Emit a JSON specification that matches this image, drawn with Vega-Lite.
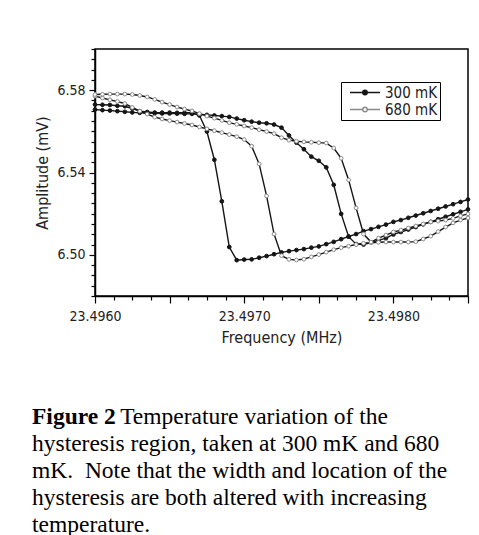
{
  "$schema": "https://vega.github.io/schema/vega-lite/v6.json",
  "width": 373,
  "height": 247,
  "autosize": {"type": "none"},
  "padding": {"left": 95, "top": 49, "right": 11, "bottom": 239},
  "background": "white",
  "title": {
    "text": "Figure 2",
    "subtitle": [
      "\u200b\u00a0\u00a0\u00a0\u00a0\u00a0\u00a0\u00a0\u00a0\u00a0\u00a0\u00a0\u00a0\u00a0\u00a0\u00a0Temperature variation of the",
      "hysteresis region, taken at 300 mK and 680",
      "mK.\u00a0 Note that the width and location of the",
      "hysteresis are both altered with increasing",
      "temperature."
    ],
    "orient": "bottom",
    "anchor": "start",
    "frame": "group",
    "dx": -63,
    "offset": 60,
    "font": "Liberation Serif",
    "fontSize": 23.5,
    "fontWeight": "bold",
    "color": "black",
    "subtitleFont": "Liberation Serif",
    "subtitleFontSize": 23.5,
    "subtitleColor": "black",
    "subtitleLineHeight": 27.1,
    "subtitlePadding": -23.5
  },
  "data": {
    "values": [
      {"f":23.49600,"a":6.5730,"t":"300 mK","c":"300a"},
      {"f":23.49605,"a":6.5729,"t":"300 mK","c":"300a"},
      {"f":23.49610,"a":6.5728,"t":"300 mK","c":"300a"},
      {"f":23.49615,"a":6.5724,"t":"300 mK","c":"300a"},
      {"f":23.49620,"a":6.5722,"t":"300 mK","c":"300a"},
      {"f":23.49625,"a":6.5711,"t":"300 mK","c":"300a"},
      {"f":23.49630,"a":6.5698,"t":"300 mK","c":"300a"},
      {"f":23.49635,"a":6.5694,"t":"300 mK","c":"300a"},
      {"f":23.49640,"a":6.5691,"t":"300 mK","c":"300a"},
      {"f":23.49645,"a":6.5691,"t":"300 mK","c":"300a"},
      {"f":23.49650,"a":6.5691,"t":"300 mK","c":"300a"},
      {"f":23.49655,"a":6.5690,"t":"300 mK","c":"300a"},
      {"f":23.49660,"a":6.5690,"t":"300 mK","c":"300a"},
      {"f":23.49665,"a":6.5690,"t":"300 mK","c":"300a"},
      {"f":23.49670,"a":6.5677,"t":"300 mK","c":"300a"},
      {"f":23.49675,"a":6.5599,"t":"300 mK","c":"300a"},
      {"f":23.49680,"a":6.5462,"t":"300 mK","c":"300a"},
      {"f":23.49685,"a":6.5260,"t":"300 mK","c":"300a"},
      {"f":23.49690,"a":6.5038,"t":"300 mK","c":"300a"},
      {"f":23.49695,"a":6.4974,"t":"300 mK","c":"300a"},
      {"f":23.49700,"a":6.4977,"t":"300 mK","c":"300a"},
      {"f":23.49705,"a":6.4978,"t":"300 mK","c":"300a"},
      {"f":23.49710,"a":6.4986,"t":"300 mK","c":"300a"},
      {"f":23.49715,"a":6.4994,"t":"300 mK","c":"300a"},
      {"f":23.49720,"a":6.5003,"t":"300 mK","c":"300a"},
      {"f":23.49725,"a":6.5012,"t":"300 mK","c":"300a"},
      {"f":23.49730,"a":6.5018,"t":"300 mK","c":"300a"},
      {"f":23.49735,"a":6.5023,"t":"300 mK","c":"300a"},
      {"f":23.49740,"a":6.5028,"t":"300 mK","c":"300a"},
      {"f":23.49745,"a":6.5035,"t":"300 mK","c":"300a"},
      {"f":23.49750,"a":6.5041,"t":"300 mK","c":"300a"},
      {"f":23.49755,"a":6.5052,"t":"300 mK","c":"300a"},
      {"f":23.49760,"a":6.5063,"t":"300 mK","c":"300a"},
      {"f":23.49765,"a":6.5076,"t":"300 mK","c":"300a"},
      {"f":23.49770,"a":6.5089,"t":"300 mK","c":"300a"},
      {"f":23.49775,"a":6.5101,"t":"300 mK","c":"300a"},
      {"f":23.49780,"a":6.5115,"t":"300 mK","c":"300a"},
      {"f":23.49785,"a":6.5125,"t":"300 mK","c":"300a"},
      {"f":23.49790,"a":6.5136,"t":"300 mK","c":"300a"},
      {"f":23.49795,"a":6.5147,"t":"300 mK","c":"300a"},
      {"f":23.49800,"a":6.5160,"t":"300 mK","c":"300a"},
      {"f":23.49805,"a":6.5169,"t":"300 mK","c":"300a"},
      {"f":23.49810,"a":6.5180,"t":"300 mK","c":"300a"},
      {"f":23.49815,"a":6.5191,"t":"300 mK","c":"300a"},
      {"f":23.49820,"a":6.5202,"t":"300 mK","c":"300a"},
      {"f":23.49825,"a":6.5213,"t":"300 mK","c":"300a"},
      {"f":23.49830,"a":6.5224,"t":"300 mK","c":"300a"},
      {"f":23.49835,"a":6.5235,"t":"300 mK","c":"300a"},
      {"f":23.49840,"a":6.5246,"t":"300 mK","c":"300a"},
      {"f":23.49845,"a":6.5257,"t":"300 mK","c":"300a"},
      {"f":23.49850,"a":6.5269,"t":"300 mK","c":"300a"},

      {"f":23.49600,"a":6.5706,"t":"300 mK","c":"300b"},
      {"f":23.49605,"a":6.5703,"t":"300 mK","c":"300b"},
      {"f":23.49610,"a":6.5701,"t":"300 mK","c":"300b"},
      {"f":23.49615,"a":6.5698,"t":"300 mK","c":"300b"},
      {"f":23.49620,"a":6.5695,"t":"300 mK","c":"300b"},
      {"f":23.49625,"a":6.5692,"t":"300 mK","c":"300b"},
      {"f":23.49630,"a":6.5690,"t":"300 mK","c":"300b"},
      {"f":23.49635,"a":6.5689,"t":"300 mK","c":"300b"},
      {"f":23.49640,"a":6.5688,"t":"300 mK","c":"300b"},
      {"f":23.49645,"a":6.5687,"t":"300 mK","c":"300b"},
      {"f":23.49650,"a":6.5687,"t":"300 mK","c":"300b"},
      {"f":23.49655,"a":6.5686,"t":"300 mK","c":"300b"},
      {"f":23.49660,"a":6.5685,"t":"300 mK","c":"300b"},
      {"f":23.49665,"a":6.5685,"t":"300 mK","c":"300b"},
      {"f":23.49670,"a":6.5683,"t":"300 mK","c":"300b"},
      {"f":23.49675,"a":6.5680,"t":"300 mK","c":"300b"},
      {"f":23.49680,"a":6.5677,"t":"300 mK","c":"300b"},
      {"f":23.49685,"a":6.5674,"t":"300 mK","c":"300b"},
      {"f":23.49690,"a":6.5670,"t":"300 mK","c":"300b"},
      {"f":23.49695,"a":6.5662,"t":"300 mK","c":"300b"},
      {"f":23.49700,"a":6.5654,"t":"300 mK","c":"300b"},
      {"f":23.49705,"a":6.5647,"t":"300 mK","c":"300b"},
      {"f":23.49710,"a":6.5642,"t":"300 mK","c":"300b"},
      {"f":23.49715,"a":6.5639,"t":"300 mK","c":"300b"},
      {"f":23.49720,"a":6.5633,"t":"300 mK","c":"300b"},
      {"f":23.49725,"a":6.5618,"t":"300 mK","c":"300b"},
      {"f":23.49730,"a":6.5580,"t":"300 mK","c":"300b"},
      {"f":23.49735,"a":6.5545,"t":"300 mK","c":"300b"},
      {"f":23.49740,"a":6.5513,"t":"300 mK","c":"300b"},
      {"f":23.49745,"a":6.5477,"t":"300 mK","c":"300b"},
      {"f":23.49750,"a":6.5457,"t":"300 mK","c":"300b"},
      {"f":23.49755,"a":6.5425,"t":"300 mK","c":"300b"},
      {"f":23.49760,"a":6.5340,"t":"300 mK","c":"300b"},
      {"f":23.49765,"a":6.5199,"t":"300 mK","c":"300b"},
      {"f":23.49770,"a":6.5088,"t":"300 mK","c":"300b"},
      {"f":23.49775,"a":6.5052,"t":"300 mK","c":"300b"},
      {"f":23.49780,"a":6.5050,"t":"300 mK","c":"300b"},
      {"f":23.49785,"a":6.5060,"t":"300 mK","c":"300b"},
      {"f":23.49790,"a":6.5070,"t":"300 mK","c":"300b"},
      {"f":23.49795,"a":6.5081,"t":"300 mK","c":"300b"},
      {"f":23.49800,"a":6.5099,"t":"300 mK","c":"300b"},
      {"f":23.49805,"a":6.5111,"t":"300 mK","c":"300b"},
      {"f":23.49810,"a":6.5123,"t":"300 mK","c":"300b"},
      {"f":23.49815,"a":6.5135,"t":"300 mK","c":"300b"},
      {"f":23.49820,"a":6.5148,"t":"300 mK","c":"300b"},
      {"f":23.49825,"a":6.5160,"t":"300 mK","c":"300b"},
      {"f":23.49830,"a":6.5173,"t":"300 mK","c":"300b"},
      {"f":23.49835,"a":6.5185,"t":"300 mK","c":"300b"},
      {"f":23.49840,"a":6.5197,"t":"300 mK","c":"300b"},
      {"f":23.49845,"a":6.5209,"t":"300 mK","c":"300b"},
      {"f":23.49850,"a":6.5221,"t":"300 mK","c":"300b"},

      {"f":23.49600,"a":6.5771,"t":"680 mK","c":"680a"},
      {"f":23.49605,"a":6.5762,"t":"680 mK","c":"680a"},
      {"f":23.49610,"a":6.5753,"t":"680 mK","c":"680a"},
      {"f":23.49615,"a":6.5745,"t":"680 mK","c":"680a"},
      {"f":23.49620,"a":6.5735,"t":"680 mK","c":"680a"},
      {"f":23.49625,"a":6.5716,"t":"680 mK","c":"680a"},
      {"f":23.49630,"a":6.5698,"t":"680 mK","c":"680a"},
      {"f":23.49635,"a":6.5684,"t":"680 mK","c":"680a"},
      {"f":23.49640,"a":6.5669,"t":"680 mK","c":"680a"},
      {"f":23.49645,"a":6.5660,"t":"680 mK","c":"680a"},
      {"f":23.49650,"a":6.5652,"t":"680 mK","c":"680a"},
      {"f":23.49655,"a":6.5645,"t":"680 mK","c":"680a"},
      {"f":23.49660,"a":6.5638,"t":"680 mK","c":"680a"},
      {"f":23.49665,"a":6.5631,"t":"680 mK","c":"680a"},
      {"f":23.49670,"a":6.5621,"t":"680 mK","c":"680a"},
      {"f":23.49675,"a":6.5612,"t":"680 mK","c":"680a"},
      {"f":23.49680,"a":6.5603,"t":"680 mK","c":"680a"},
      {"f":23.49685,"a":6.5594,"t":"680 mK","c":"680a"},
      {"f":23.49690,"a":6.5584,"t":"680 mK","c":"680a"},
      {"f":23.49695,"a":6.5574,"t":"680 mK","c":"680a"},
      {"f":23.49700,"a":6.5560,"t":"680 mK","c":"680a"},
      {"f":23.49705,"a":6.5528,"t":"680 mK","c":"680a"},
      {"f":23.49710,"a":6.5442,"t":"680 mK","c":"680a"},
      {"f":23.49715,"a":6.5286,"t":"680 mK","c":"680a"},
      {"f":23.49720,"a":6.5101,"t":"680 mK","c":"680a"},
      {"f":23.49725,"a":6.4996,"t":"680 mK","c":"680a"},
      {"f":23.49730,"a":6.4978,"t":"680 mK","c":"680a"},
      {"f":23.49735,"a":6.4975,"t":"680 mK","c":"680a"},
      {"f":23.49740,"a":6.4979,"t":"680 mK","c":"680a"},
      {"f":23.49745,"a":6.4990,"t":"680 mK","c":"680a"},
      {"f":23.49750,"a":6.5001,"t":"680 mK","c":"680a"},
      {"f":23.49755,"a":6.5013,"t":"680 mK","c":"680a"},
      {"f":23.49760,"a":6.5025,"t":"680 mK","c":"680a"},
      {"f":23.49765,"a":6.5035,"t":"680 mK","c":"680a"},
      {"f":23.49770,"a":6.5042,"t":"680 mK","c":"680a"},
      {"f":23.49775,"a":6.5050,"t":"680 mK","c":"680a"},
      {"f":23.49780,"a":6.5056,"t":"680 mK","c":"680a"},
      {"f":23.49785,"a":6.5059,"t":"680 mK","c":"680a"},
      {"f":23.49790,"a":6.5061,"t":"680 mK","c":"680a"},
      {"f":23.49795,"a":6.5062,"t":"680 mK","c":"680a"},
      {"f":23.49800,"a":6.5062,"t":"680 mK","c":"680a"},
      {"f":23.49805,"a":6.5062,"t":"680 mK","c":"680a"},
      {"f":23.49810,"a":6.5062,"t":"680 mK","c":"680a"},
      {"f":23.49815,"a":6.5064,"t":"680 mK","c":"680a"},
      {"f":23.49820,"a":6.5077,"t":"680 mK","c":"680a"},
      {"f":23.49825,"a":6.5091,"t":"680 mK","c":"680a"},
      {"f":23.49830,"a":6.5113,"t":"680 mK","c":"680a"},
      {"f":23.49835,"a":6.5135,"t":"680 mK","c":"680a"},
      {"f":23.49840,"a":6.5155,"t":"680 mK","c":"680a"},
      {"f":23.49845,"a":6.5169,"t":"680 mK","c":"680a"},
      {"f":23.49850,"a":6.5179,"t":"680 mK","c":"680a"},

      {"f":23.49600,"a":6.5779,"t":"680 mK","c":"680b"},
      {"f":23.49605,"a":6.5780,"t":"680 mK","c":"680b"},
      {"f":23.49610,"a":6.5781,"t":"680 mK","c":"680b"},
      {"f":23.49615,"a":6.5781,"t":"680 mK","c":"680b"},
      {"f":23.49620,"a":6.5781,"t":"680 mK","c":"680b"},
      {"f":23.49625,"a":6.5779,"t":"680 mK","c":"680b"},
      {"f":23.49630,"a":6.5774,"t":"680 mK","c":"680b"},
      {"f":23.49635,"a":6.5767,"t":"680 mK","c":"680b"},
      {"f":23.49640,"a":6.5755,"t":"680 mK","c":"680b"},
      {"f":23.49645,"a":6.5742,"t":"680 mK","c":"680b"},
      {"f":23.49650,"a":6.5730,"t":"680 mK","c":"680b"},
      {"f":23.49655,"a":6.5718,"t":"680 mK","c":"680b"},
      {"f":23.49660,"a":6.5708,"t":"680 mK","c":"680b"},
      {"f":23.49665,"a":6.5699,"t":"680 mK","c":"680b"},
      {"f":23.49670,"a":6.5686,"t":"680 mK","c":"680b"},
      {"f":23.49675,"a":6.5674,"t":"680 mK","c":"680b"},
      {"f":23.49680,"a":6.5664,"t":"680 mK","c":"680b"},
      {"f":23.49685,"a":6.5653,"t":"680 mK","c":"680b"},
      {"f":23.49690,"a":6.5642,"t":"680 mK","c":"680b"},
      {"f":23.49695,"a":6.5634,"t":"680 mK","c":"680b"},
      {"f":23.49700,"a":6.5626,"t":"680 mK","c":"680b"},
      {"f":23.49705,"a":6.5618,"t":"680 mK","c":"680b"},
      {"f":23.49710,"a":6.5608,"t":"680 mK","c":"680b"},
      {"f":23.49715,"a":6.5599,"t":"680 mK","c":"680b"},
      {"f":23.49720,"a":6.5589,"t":"680 mK","c":"680b"},
      {"f":23.49725,"a":6.5569,"t":"680 mK","c":"680b"},
      {"f":23.49730,"a":6.5557,"t":"680 mK","c":"680b"},
      {"f":23.49735,"a":6.5552,"t":"680 mK","c":"680b"},
      {"f":23.49740,"a":6.5549,"t":"680 mK","c":"680b"},
      {"f":23.49745,"a":6.5547,"t":"680 mK","c":"680b"},
      {"f":23.49750,"a":6.5545,"t":"680 mK","c":"680b"},
      {"f":23.49755,"a":6.5543,"t":"680 mK","c":"680b"},
      {"f":23.49760,"a":6.5519,"t":"680 mK","c":"680b"},
      {"f":23.49765,"a":6.5469,"t":"680 mK","c":"680b"},
      {"f":23.49770,"a":6.5364,"t":"680 mK","c":"680b"},
      {"f":23.49775,"a":6.5228,"t":"680 mK","c":"680b"},
      {"f":23.49780,"a":6.5101,"t":"680 mK","c":"680b"},
      {"f":23.49785,"a":6.5062,"t":"680 mK","c":"680b"},
      {"f":23.49790,"a":6.5081,"t":"680 mK","c":"680b"},
      {"f":23.49795,"a":6.5096,"t":"680 mK","c":"680b"},
      {"f":23.49800,"a":6.5111,"t":"680 mK","c":"680b"},
      {"f":23.49805,"a":6.5120,"t":"680 mK","c":"680b"},
      {"f":23.49810,"a":6.5130,"t":"680 mK","c":"680b"},
      {"f":23.49815,"a":6.5140,"t":"680 mK","c":"680b"},
      {"f":23.49820,"a":6.5150,"t":"680 mK","c":"680b"},
      {"f":23.49825,"a":6.5160,"t":"680 mK","c":"680b"},
      {"f":23.49830,"a":6.5164,"t":"680 mK","c":"680b"},
      {"f":23.49835,"a":6.5169,"t":"680 mK","c":"680b"},
      {"f":23.49840,"a":6.5177,"t":"680 mK","c":"680b"},
      {"f":23.49845,"a":6.5189,"t":"680 mK","c":"680b"},
      {"f":23.49850,"a":6.5199,"t":"680 mK","c":"680b"}
    ]
  },
  "encoding": {
    "x": {
      "field": "f",
      "type": "quantitative",
      "scale": {"domain": [23.496, 23.4985], "nice": false, "zero": false},
      "axis": {
        "title": "Frequency (MHz)",
        "values": [23.496, 23.496125, 23.49625, 23.496375, 23.4965, 23.496625, 23.49675, 23.496875, 23.497, 23.497125, 23.49725, 23.497375, 23.4975, 23.497625, 23.49775, 23.497875, 23.498, 23.498125, 23.49825, 23.498375, 23.4985],
        "labelExpr": "abs(datum.value*1000 - round(datum.value*1000)) < 0.01 ? format(datum.value, '.4f') : ''",
        "labelOverlap": false,
        "labelFlush": false,
        "tickSize": {"condition": {"test": "abs(datum.value*2000 - round(datum.value*2000)) < 0.01", "value": 7}, "value": 4},
        "labelPadding": 6,
        "labelDx": 3,
        "titlePadding": 6
      }
    },
    "y": {
      "field": "a",
      "type": "quantitative",
      "scale": {"domain": [6.48, 6.6], "nice": false, "zero": false},
      "axis": {
        "title": "Amplitude (mV)",
        "values": [6.48, 6.485, 6.49, 6.495, 6.5, 6.505, 6.51, 6.515, 6.52, 6.525, 6.53, 6.535, 6.54, 6.545, 6.55, 6.555, 6.56, 6.565, 6.57, 6.575, 6.58, 6.585, 6.59, 6.595, 6.6],
        "labelExpr": "abs((datum.value-6.5)*25 - round((datum.value-6.5)*25)) < 0.01 ? format(datum.value, '.2f') : ''",
        "labelOverlap": false,
        "labelFlush": false,
        "tickSize": {"condition": {"test": "abs((datum.value-6.5)*25 - round((datum.value-6.5)*25)) < 0.01", "value": 6}, "value": 4},
        "labelPadding": 4,
        "titlePadding": 6
      }
    }
  },
  "layer": [
    {
      "mark": {"type": "line", "color": "#151515", "strokeWidth": 1.4},
      "encoding": {"detail": {"field": "c"}}
    },
    {
      "mark": {"type": "point", "shape": "circle", "filled": true, "size": 14, "strokeWidth": 1, "opacity": 1},
      "encoding": {
        "fill": {
          "field": "t",
          "type": "nominal",
          "scale": {"domain": ["300 mK", "680 mK"], "range": ["#151515", "white"]},
          "legend": {
            "title": null,
            "orient": "none",
            "legendX": 246,
            "legendY": 33,
            "symbolType": "M-1,0H0.7M1.3,0H3M0.7,0A0.3,0.3,0,1,0,1.3,0A0.3,0.3,0,1,0,0.7,0Z",
            "symbolSize": 225,
            "symbolStrokeWidth": 1.4,
            "symbolOffset": 6,
            "labelOffset": 19,
            "labelFont": "DejaVu Sans Condensed",
            "labelFontSize": 15,
            "labelColor": "#222",
            "strokeColor": "black",
            "fillColor": "white",
            "padding": 2,
            "rowPadding": -2
          }
        },
        "stroke": {
          "field": "t",
          "type": "nominal",
          "scale": {"domain": ["300 mK", "680 mK"], "range": ["#151515", "#8a8a8a"]},
          "legend": {
            "title": null,
            "orient": "none",
            "legendX": 246,
            "legendY": 33,
            "symbolType": "M-1,0H0.7M1.3,0H3M0.7,0A0.3,0.3,0,1,0,1.3,0A0.3,0.3,0,1,0,0.7,0Z",
            "symbolSize": 225,
            "symbolStrokeWidth": 1.4,
            "symbolOffset": 6,
            "labelOffset": 19,
            "labelFont": "DejaVu Sans Condensed",
            "labelFontSize": 15,
            "labelColor": "#222",
            "strokeColor": "black",
            "fillColor": "white",
            "padding": 2,
            "rowPadding": -2
          }
        }
      }
    }
  ],
  "config": {
    "view": {"stroke": "black", "strokeWidth": 1.5},
    "axis": {
      "grid": false,
      "labelFont": "DejaVu Sans Condensed",
      "labelFontSize": 14,
      "labelColor": "#222",
      "titleFont": "DejaVu Sans Condensed",
      "titleFontSize": 16,
      "titleFontWeight": "normal",
      "titleColor": "#222",
      "domainColor": "black",
      "domainWidth": 1.5,
      "tickColor": "black",
      "tickWidth": 1.2
    }
  }
}
